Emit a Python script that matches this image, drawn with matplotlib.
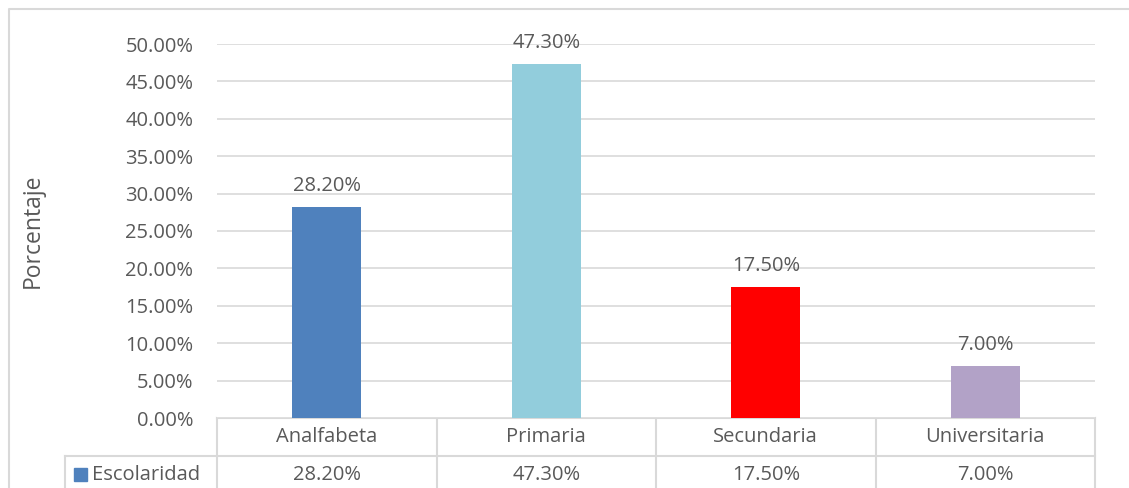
#!/usr/bin/env python3
"""Escolaridad bar chart with an Excel-style data table underneath."""

import matplotlib
matplotlib.use("Agg")
import matplotlib.pyplot as plt
from matplotlib.ticker import MultipleLocator, FuncFormatter

categories = ["Analfabeta", "Primaria", "Secundaria", "Universitaria"]
values = [28.2, 47.3, 17.5, 7.0]
series_name = "Escolaridad"
bar_colors = ["#4F81BD", "#92CDDC", "#FF0000", "#B2A2C7"]

TEXT = "#595959"
GRID = "#D9D9D9"
FONT = "Open Sans"
FS = 14.5

W, H = 1129, 488
fig = plt.figure(figsize=(W / 100, H / 100), dpi=100)
plt.rcParams["font.family"] = [FONT, "DejaVu Sans"]

# plot area in pixels
px_left, px_right = 217, 1095
px_top, px_bottom = 44, 418
row_h = 38

ax = fig.add_axes([px_left / W, 1 - px_bottom / H,
                   (px_right - px_left) / W, (px_bottom - px_top) / H])
x = list(range(len(categories)))
ax.bar(x, values, width=0.315, color=bar_colors, zorder=3)
ax.set_xlim(-0.5, len(categories) - 0.5)
ax.set_ylim(0, 50)
ax.yaxis.set_major_locator(MultipleLocator(5))
ax.yaxis.set_major_formatter(FuncFormatter(lambda v, _: f"{v:.2f}%"))
ax.grid(axis="y", color=GRID, linewidth=1.2, zorder=0)
ax.set_xticks([])
for s in ax.spines.values():
    s.set_visible(False)
ax.tick_params(axis="y", length=0, pad=17, labelsize=FS, labelcolor=TEXT)
for lab in ax.get_yticklabels():
    lab.set_fontfamily(FONT)

for xi, v in zip(x, values):
    ax.annotate(f"{v:.2f}%", (xi, v), xytext=(0, 8), textcoords="offset points",
                ha="center", va="bottom", fontsize=FS, color=TEXT,
                annotation_clip=False)

ax.set_ylabel("Porcentaje", fontsize=16.5, color=TEXT)
ax.yaxis.set_label_coords((45 - px_left) / (px_right - px_left), 0.5)

# overlay in pixel coordinates for chart border and data table
ov = fig.add_axes([0, 0, 1, 1], zorder=-1)
ov.set_xlim(0, W)
ov.set_ylim(H, 0)
ov.axis("off")

ov.plot([9, 9, W], [H, 9, 9], color=GRID, linewidth=1.5)

col_w = (px_right - px_left) / len(categories)
legend_left = 65
y0, y1, y2 = px_bottom, px_bottom + row_h, px_bottom + 2 * row_h
lw = 1.5
ov.plot([px_left, px_right], [y0, y0], color=GRID, linewidth=lw)
ov.plot([legend_left, px_right], [y1, y1], color=GRID, linewidth=lw)
ov.plot([legend_left, legend_left], [y1, y2], color=GRID, linewidth=lw)
for i in range(len(categories) + 1):
    xc = px_left + i * col_w
    ov.plot([xc, xc], [y0, y2], color=GRID, linewidth=lw)

for i, (cat, v) in enumerate(zip(categories, values)):
    xc = px_left + (i + 0.5) * col_w
    ov.text(xc, (y0 + y1) / 2, cat, ha="center", va="center",
            fontsize=FS, color=TEXT)
    ov.text(xc, (y1 + y2) / 2, f"{v:.2f}%", ha="center", va="center",
            fontsize=FS, color=TEXT)

ov.add_patch(plt.Rectangle((74, 468), 13, 13, color=bar_colors[0]))
ov.text(92, (y1 + y2) / 2, series_name, ha="left", va="center",
        fontsize=FS, color=TEXT)

fig.savefig("out.png", dpi=100)
